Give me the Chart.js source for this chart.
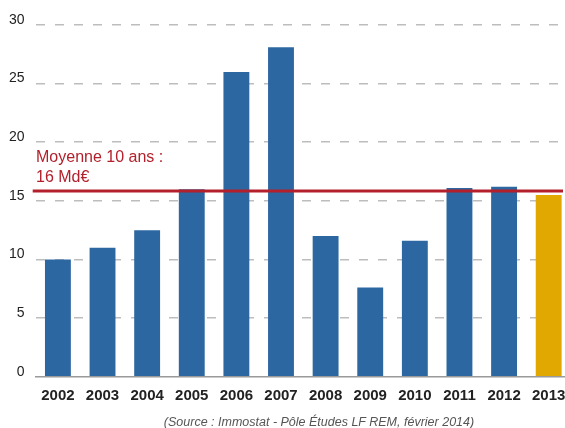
<!DOCTYPE html>
<html><head><meta charset="utf-8">
<script src="https://cdn.jsdelivr.net/npm/chart.js@4/dist/chart.umd.min.js"></script>
<style>
html,body{margin:0;padding:0;width:565px;height:428px;overflow:hidden;background:#fff;}
#wrap{position:absolute;left:0;top:0;width:571px;height:428px;}
#src{position:absolute;left:0;width:638px;top:414.5px;text-align:center;font:italic 12.5px "Liberation Sans",Arial,sans-serif;color:#555;white-space:nowrap;}
</style></head>
<body>
<div id="wrap"><canvas id="c" width="571" height="428"></canvas></div>
<div id="src">(Source : Immostat - Pôle Études LF REM, février 2014)</div>
<script>
const categories = ['2002','2003','2004','2005','2006','2007','2008','2009','2010','2011','2012','2013'];
const values = [10.0, 11.0, 12.5, 16.0, 26.0, 28.1, 12.0, 7.6, 11.6, 16.1, 16.2, 15.5];
const barColors = ['#2c67a1','#2c67a1','#2c67a1','#2c67a1','#2c67a1','#2c67a1','#2c67a1','#2c67a1','#2c67a1','#2c67a1','#2c67a1','#e0a800'];
const yTicks = [0, 5, 10, 15, 20, 25, 30];
const meanValue = [15.85];
const meanLabel = ['Moyenne 10 ans :', '16 Md€'];

const FONT = '"Liberation Sans",Arial,sans-serif';

const meanPlugin = {
  id: 'meanLine',
  afterDatasetsDraw(chart) {
    const {ctx, chartArea, scales} = chart;
    const y = scales.y.getPixelForValue(meanValue[0]);
    ctx.save();
    ctx.strokeStyle = '#b3202b';
    ctx.lineWidth = 3;
    ctx.beginPath();
    ctx.moveTo(chartArea.left - 2.9, y);
    ctx.lineTo(563, y);
    ctx.stroke();
    ctx.fillStyle = '#b3202b';
    ctx.font = '16px ' + FONT;
    ctx.textBaseline = 'alphabetic';
    ctx.textAlign = 'left';
    ctx.fillText(meanLabel[0], chartArea.left + 0.4, y - 28.7);
    ctx.fillText(meanLabel[1], chartArea.left + 0.4, y - 9.3);
    ctx.restore();
  }
};

new Chart(document.getElementById('c'), {
  type: 'bar',
  data: {
    labels: categories,
    datasets: [{
      data: values,
      backgroundColor: barColors,
      borderWidth: 0,
      categoryPercentage: 1,
      barPercentage: 0.58
    }]
  },
  options: {
    responsive: false,
    animation: false,
    events: [],
    layout: { padding: { top: 25, bottom: 0, left: 0, right: 0 } },
    plugins: { legend: { display: false }, tooltip: { enabled: false } },
    scales: {
      x: {
        grid: { display: false, drawTicks: true, tickLength: 10 },
        border: { display: true, color: '#9a9a9a', width: 1.5 },
        ticks: { color: '#222', padding: 0, font: { family: FONT, size: 15, weight: 'bold' }, maxRotation: 0, autoSkip: false },
        afterFit(s) { s.height = 428 - 376.7; }
      },
      y: {
        min: 0, max: 30,
        afterBuildTicks(s) { s.ticks = yTicks.map(v => ({ value: v })); },
        grid: {
          drawTicks: false,
          color: ctx => ctx.tick && ctx.tick.value === 0 ? 'rgba(0,0,0,0)' : '#bdbdbd',
          lineWidth: 1.5
        },
        border: { display: false, dash: [9, 10] },
        ticks: { color: '#222', padding: 11, labelOffset: -5, font: { family: FONT, size: 14 } },
        afterFit(s) { s.width = 35.6; }
      }
    }
  },
  plugins: [meanPlugin]
});
</script>
</body></html>
